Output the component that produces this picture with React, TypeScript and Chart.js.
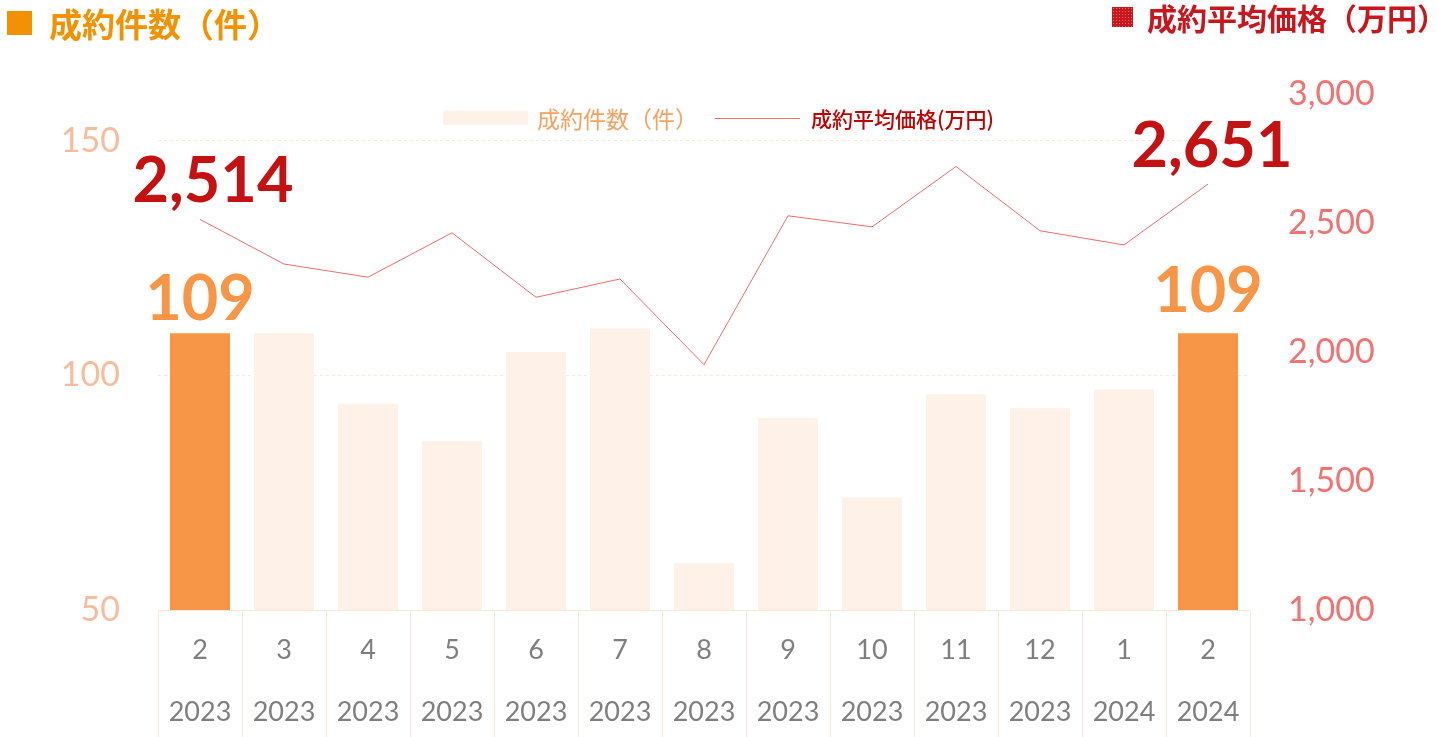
import React, { useEffect, useRef } from "react";
import { Chart, registerables } from "chart.js";

Chart.register(...registerables);

const months = ["2", "3", "4", "5", "6", "7", "8", "9", "10", "11", "12", "1", "2"];
const years = ["2023", "2023", "2023", "2023", "2023", "2023", "2023", "2023", "2023", "2023", "2023", "2024", "2024"];
const counts = [109, 109, 94, 86, 105, 110, 60, 91, 74, 96, 93, 97, 109];
const prices = [2514, 2341, 2290, 2462, 2212, 2283, 1951, 2528, 2485, 2719, 2470, 2415, 2651];
const leftTicks = [50, 100, 150];

const ORANGE = "#F79646";
const PALE = "#FDF1E8";
const LINE = "#F26B6B";
const DARKRED = "#C41212";
const NUMFONT = "Lato, 'Noto Sans CJK JP', sans-serif";
const JPFONT = "'Noto Sans CJK JP', sans-serif";

const endLabels = {
  id: "endLabels",
  afterDatasetsDraw(chart: any) {
    const ctx = chart.ctx;
    const bars = chart.getDatasetMeta(0).data;
    const pts = chart.getDatasetMeta(1).data;
    const last = counts.length - 1;
    ctx.save();
    ctx.font = `bold 63px ${NUMFONT}`;
    ctx.textAlign = "center";
    ctx.textBaseline = "alphabetic";
    [0, last].forEach((i) => {
      const b = bars[i];
      ctx.fillStyle = ORANGE;
      ctx.fillText(String(counts[i]), b.x, b.y - (i === 0 ? 13 : 21));
      const p = pts[i];
      ctx.fillStyle = DARKRED;
      ctx.fillText(prices[i].toLocaleString("en-US"), p.x + (i === 0 ? 13 : 4), p.y - 17);
    });
    ctx.restore();
  },
};

export default function App() {
  const ref = useRef<HTMLCanvasElement | null>(null);

  useEffect(() => {
    if (!ref.current) return;
    const chart = new Chart(ref.current, {
      type: "bar",
      data: {
        labels: months.map((m, i) => [m, years[i]]),
        datasets: [
          {
            type: "bar",
            label: "成約件数（件）",
            data: counts,
            yAxisID: "y",
            backgroundColor: counts.map((_, i) => (i === 0 || i === counts.length - 1 ? ORANGE : PALE)),
            categoryPercentage: 1,
            barPercentage: 0.714,
            order: 2,
          },
          {
            type: "line",
            label: "成約平均価格(万円)",
            data: prices,
            yAxisID: "y1",
            borderColor: LINE,
            borderWidth: 1,
            pointRadius: 0,
            tension: 0,
            order: 1,
          } as any,
        ],
      },
      options: {
        responsive: false,
        animation: false,
        devicePixelRatio: 1,
        layout: { padding: { top: 94, left: 0, right: 0, bottom: 0 } },
        plugins: { legend: { display: false }, tooltip: { enabled: false }, title: { display: false } },
        scales: {
          x: {
            offset: true,
            grid: {
              offset: true,
              drawOnChartArea: false,
              drawTicks: true,
              tickLength: 127,
              tickColor: "#FBE8DC",
              color: "#FBE8DC",
            },
            border: { display: true, color: "#FBE8DC" },
            ticks: {
              color: "#7F7F7F",
              font: { size: 27, family: NUMFONT, lineHeight: 62 / 27 },
              padding: -118,
              maxRotation: 0,
              autoSkip: false,
            },
            afterFit: (s: any) => {
              s.height = 127;
            },
          },
          y: {
            position: "left",
            min: 50,
            max: 160,
            afterBuildTicks: (s: any) => {
              s.ticks = leftTicks.map((v) => ({ value: v }));
            },
            grid: { color: "#FBE6D8", drawTicks: false, lineWidth: 1 },
            border: { display: false, dash: [3, 3] },
            ticks: {
              color: "#F8BC9C",
              font: { size: 34, family: NUMFONT },
              padding: 38,
            },
            afterFit: (s: any) => {
              s.width = 158;
            },
          },
          y1: {
            position: "right",
            min: 1000,
            max: 3000,
            grid: { display: false, drawTicks: false },
            border: { display: false },
            ticks: {
              stepSize: 500,
              color: "#F27171",
              font: { size: 34, family: NUMFONT },
              padding: 38,
              callback: (v: any) => Number(v).toLocaleString("en-US"),
            },
            afterFit: (s: any) => {
              s.width = 189;
            },
          },
        },
      } as any,
      plugins: [endLabels],
    });
    return () => chart.destroy();
  }, []);

  return (
    <div style={{ position: "fixed", left: 0, top: 0, width: 1439, height: 737, background: "#fff", overflow: "hidden" }}>
      <canvas ref={ref} width={1439} height={737} style={{ position: "absolute", left: 0, top: 0, width: 1439, height: 737 }} />
      <div style={{ position: "absolute", left: 7, top: 11, width: 25, height: 24, background: "#F39200" }} />
      <div
        style={{
          position: "absolute",
          left: 49,
          top: 2,
          fontFamily: JPFONT,
          fontWeight: 700,
          fontSize: 33,
          lineHeight: "42px",
          color: "#F39200",
          whiteSpace: "nowrap",
        }}
      >
        成約件数（件）
      </div>
      <div
        style={{
          position: "absolute",
          left: 1112,
          top: 7,
          width: 21,
          height: 20,
          backgroundColor: "#C8161E",
          backgroundImage: "radial-gradient(rgba(255,170,170,0.55) 0.6px, transparent 0.8px)",
          backgroundSize: "3px 3px",
        }}
      />
      <div
        style={{
          position: "absolute",
          left: 1147,
          top: -3,
          fontFamily: JPFONT,
          fontWeight: 700,
          fontSize: 30,
          lineHeight: "40px",
          color: "#C8161E",
          whiteSpace: "nowrap",
        }}
      >
        成約平均価格（万円）
      </div>
      <div style={{ position: "absolute", left: 443, top: 111, width: 85, height: 14, background: PALE }} />
      <div
        style={{
          position: "absolute",
          left: 537,
          top: 102,
          fontFamily: JPFONT,
          fontSize: 23,
          lineHeight: "32px",
          color: "#F7A15E",
          whiteSpace: "nowrap",
        }}
      >
        成約件数（件）
      </div>
      <div style={{ position: "absolute", left: 715, top: 118, width: 85, height: 1, background: LINE }} />
      <div
        style={{
          position: "absolute",
          left: 811,
          top: 103,
          fontFamily: JPFONT,
          fontWeight: 500,
          fontSize: 21,
          lineHeight: "30px",
          color: "#C00000",
          whiteSpace: "nowrap",
        }}
      >
        成約平均価格(万円)
      </div>
    </div>
  );
}
